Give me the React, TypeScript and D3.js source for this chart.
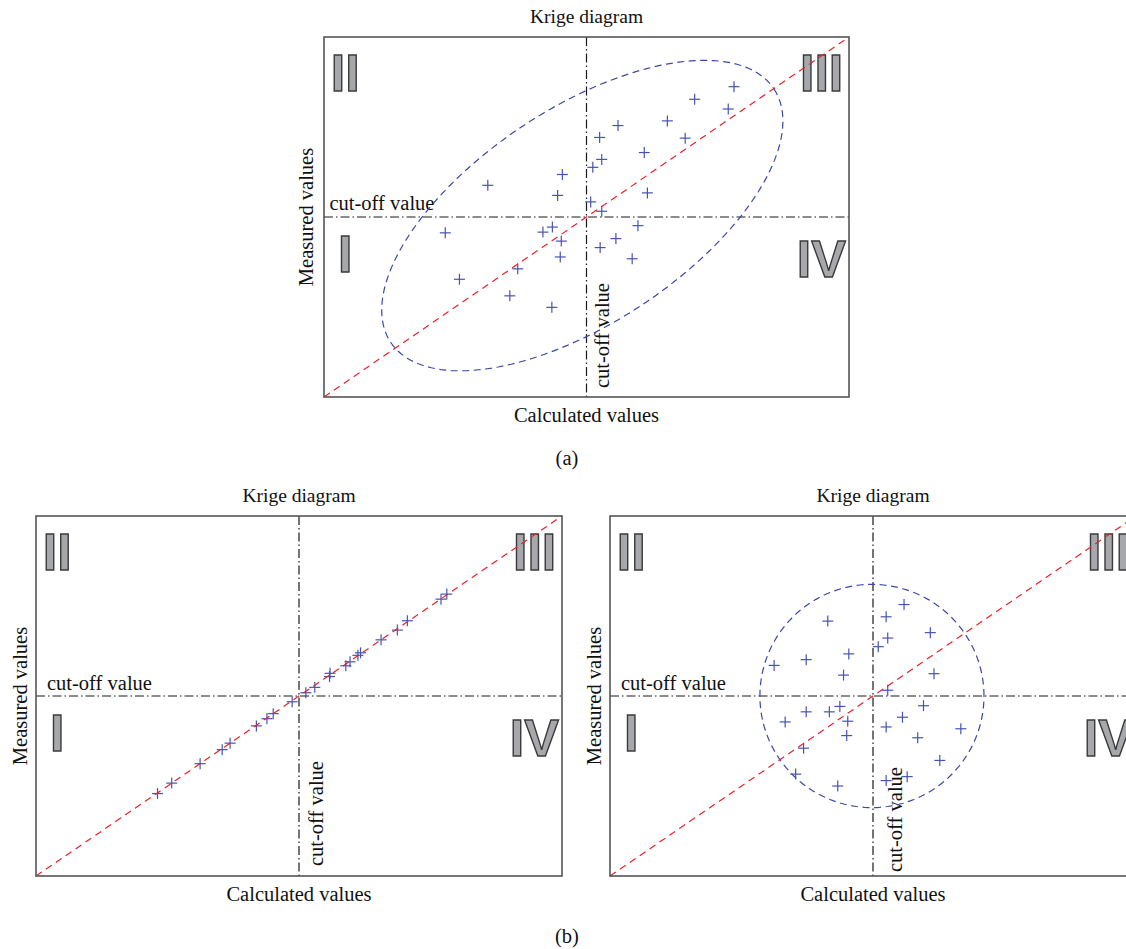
import React from "react";
import * as d3 from "d3";

// ---------- data (domain 0..10 on both axes, cut-off at 5) ----------
const cutoff = 5;
const domainMin = 0;
const domainMax = 10;

const aCalculated = [7.81, 7.06, 7.70, 5.60, 6.54, 5.25, 6.88, 6.10, 5.29, 5.12, 4.54, 3.12, 4.45, 6.16, 5.08, 5.29, 2.31, 4.17, 4.35, 4.52, 5.98, 5.56, 5.26, 4.50, 5.87, 3.69, 2.58, 3.54, 4.34];
const aMeasured = [8.62, 8.27, 8.00, 7.54, 7.67, 7.21, 7.19, 6.79, 6.60, 6.38, 6.18, 5.88, 5.60, 5.67, 5.42, 5.16, 4.56, 4.58, 4.72, 4.33, 4.76, 4.40, 4.15, 3.89, 3.84, 3.56, 3.27, 2.81, 2.49];

const bLeftCalculated = [7.81, 7.70, 7.06, 6.87, 6.56, 6.17, 6.12, 5.97, 5.89, 5.59, 5.58, 5.30, 5.13, 4.87, 4.51, 4.39, 4.19, 3.69, 3.54, 3.12, 2.58, 2.31];
const bLeftMeasured = [7.83, 7.69, 7.09, 6.83, 6.56, 6.20, 6.13, 5.95, 5.84, 5.63, 5.54, 5.24, 5.09, 4.84, 4.51, 4.37, 4.17, 3.69, 3.51, 3.12, 2.58, 2.29];

const bRightCalculated = [5.59, 5.25, 4.14, 6.09, 5.28, 5.10, 4.54, 3.73, 3.12, 4.44, 6.16, 5.28, 5.96, 4.37, 3.73, 4.17, 3.33, 4.52, 5.56, 5.25, 6.67, 4.50, 5.85, 3.68, 6.27, 3.53, 5.65, 5.25, 4.33];
const bRightMeasured = [7.54, 7.20, 7.08, 6.76, 6.61, 6.37, 6.17, 6.01, 5.85, 5.58, 5.62, 5.16, 4.73, 4.71, 4.56, 4.56, 4.28, 4.30, 4.41, 4.14, 4.09, 3.90, 3.84, 3.55, 3.21, 2.83, 2.76, 2.65, 2.50];

// confidence ellipses: centre + two conjugate semi-axis vectors (data units)
const aEllipse = { cx: 4.92, cy: 5.04, ux: 3.65, uy: 3.52, vx: 1.13, vy: -2.49 };
const bRightEllipse = { cx: 4.98, cy: 5.0, ux: 2.13, uy: 0, vx: 0, vy: 3.1 };

const titleText = "Krige diagram";
const xLabel = "Calculated values";
const yLabel = "Measured values";
const cutoffLabel = "cut-off value";
const quadrantLabels = ["I", "II", "III", "IV"];

// ---------- styles ----------
const SERIF = "'Liberation Serif', 'DejaVu Serif', serif";
const SANS = "'Liberation Sans', Arial, sans-serif";
const BLUE = "#4753b4";
const ELLIPSE_BLUE = "#3c48a6";
const RED = "#e8232b";
const LABEL_SIZE = 20.5;
const TITLE_SIZE = 19.5;

type Ellipse = { cx: number; cy: number; ux: number; uy: number; vx: number; vy: number };

type PanelProps = {
  x0: number; x1: number; y0: number; y1: number;
  xs: number[]; ys: number[];
  ellipse?: Ellipse;
  hLabelDx: number; hLabelDy: number;
  vLabelDx: number; vLabelDy: number;
  yLabelX: number;
};

function Panel(p: PanelProps) {
  const x = d3.scaleLinear().domain([domainMin, domainMax]).range([p.x0, p.x1]);
  const y = d3.scaleLinear().domain([domainMin, domainMax]).range([p.y1, p.y0]);
  const cx = x(cutoff);
  const cy = y(cutoff);
  const midX = (p.x0 + p.x1) / 2;
  const midY = (p.y0 + p.y1) / 2;

  let ellipsePath: string | null = null;
  if (p.ellipse) {
    const e = p.ellipse;
    const ts = d3.range(0, 2 * Math.PI, Math.PI / 90);
    const line = d3
      .line<number>()
      .x((t) => x(e.cx + e.ux * Math.cos(t) + e.vx * Math.sin(t)))
      .y((t) => y(e.cy + e.uy * Math.cos(t) + e.vy * Math.sin(t)))
      .curve(d3.curveLinearClosed);
    ellipsePath = line(ts);
  }

  const arm = 5.5;
  const romanStyle = {
    fontFamily: SANS,
    fontWeight: 700,
    fontSize: 52,
    fill: "#a6a8ab",
    stroke: "#3a3a3a",
    strokeWidth: 1.4,
  } as const;

  return (
    <g>
      {/* title */}
      <text x={midX} y={p.y0 - 14} textAnchor="middle" fontFamily={SERIF} fontSize={TITLE_SIZE} fill="#111">
        {titleText}
      </text>
      {/* axis labels */}
      <text x={midX} y={p.y1 + 25} textAnchor="middle" fontFamily={SERIF} fontSize={LABEL_SIZE} fill="#111">
        {xLabel}
      </text>
      <text
        transform={`translate(${p.yLabelX},${midY}) rotate(-90)`}
        textAnchor="middle"
        fontFamily={SERIF}
        fontSize={LABEL_SIZE}
        fill="#111"
      >
        {yLabel}
      </text>

      {/* quadrant labels */}
      <text x={p.x0 + 6.7} y={p.y0 + 54} style={romanStyle}>{quadrantLabels[1]}</text>
      <text x={p.x1 - 5.7} y={p.y0 + 54} textAnchor="end" style={romanStyle}>{quadrantLabels[2]}</text>
      <text x={p.x0 + 14} y={cy + 55} style={romanStyle}>{quadrantLabels[0]}</text>
      <text x={p.x1 - 3} y={cy + 60} textAnchor="end" style={romanStyle}>{quadrantLabels[3]}</text>

      {/* cut-off lines */}
      <line x1={p.x0} x2={p.x1} y1={cy} y2={cy} stroke="#1a1a1a" strokeWidth={1.2} strokeDasharray="9,3,1.5,3" />
      <line x1={cx} x2={cx} y1={p.y0} y2={p.y1} stroke="#1a1a1a" strokeWidth={1.2} strokeDasharray="9,3,1.5,3" />
      <text x={p.x0 + p.hLabelDx} y={cy + p.hLabelDy} fontFamily={SERIF} fontSize={LABEL_SIZE} fill="#111">
        {cutoffLabel}
      </text>
      <text
        transform={`translate(${cx + p.vLabelDx},${p.y1 + p.vLabelDy}) rotate(-90)`}
        fontFamily={SERIF}
        fontSize={LABEL_SIZE}
        fill="#111"
      >
        {cutoffLabel}
      </text>

      {/* ellipse */}
      {ellipsePath && (
        <path d={ellipsePath} fill="none" stroke={ELLIPSE_BLUE} strokeWidth={1.2} strokeDasharray="7,4.5" />
      )}

      {/* points */}
      {p.xs.map((v, i) => (
        <g key={i} stroke={BLUE} strokeWidth={1.2}>
          <line x1={x(v) - arm} x2={x(v) + arm} y1={y(p.ys[i])} y2={y(p.ys[i])} />
          <line x1={x(v)} x2={x(v)} y1={y(p.ys[i]) - arm} y2={y(p.ys[i]) + arm} />
        </g>
      ))}

      {/* 1:1 line */}
      <line
        x1={x(domainMin)}
        y1={y(domainMin)}
        x2={x(domainMax)}
        y2={y(domainMax)}
        stroke={RED}
        strokeWidth={1.2}
        strokeDasharray="7,5"
      />

      {/* frame */}
      <rect x={p.x0} y={p.y0} width={p.x1 - p.x0} height={p.y1 - p.y0} fill="none" stroke="#555" strokeWidth={1.6} />
    </g>
  );
}

export default function App() {
  return (
    <svg
      width={1126}
      height={949}
      style={{ position: "absolute", left: 0, top: 0, background: "#fff" }}
    >
      <rect x={0} y={0} width={1126} height={949} fill="#fff" />
      <Panel
        x0={324} x1={849} y0={37} y1={397}
        xs={aCalculated} ys={aMeasured} ellipse={aEllipse}
        hLabelDx={5.5} hLabelDy={-7.5}
        vLabelDx={22} vLabelDy={-9}
        yLabelX={313}
      />
      <Panel
        x0={36} x1={562} y0={516} y1={876}
        xs={bLeftCalculated} ys={bLeftMeasured}
        hLabelDx={11} hLabelDy={-6.5}
        vLabelDx={24} vLabelDy={-10}
        yLabelX={27}
      />
      <Panel
        x0={610} x1={1136} y0={516} y1={876}
        xs={bRightCalculated} ys={bRightMeasured} ellipse={bRightEllipse}
        hLabelDx={11} hLabelDy={-6}
        vLabelDx={28.5} vLabelDy={-4}
        yLabelX={601}
      />
      <text x={567} y={465} textAnchor="middle" fontFamily={SERIF} fontSize={LABEL_SIZE} fill="#111">(a)</text>
      <text x={567} y={943} textAnchor="middle" fontFamily={SERIF} fontSize={LABEL_SIZE} fill="#111">(b)</text>
    </svg>
  );
}
